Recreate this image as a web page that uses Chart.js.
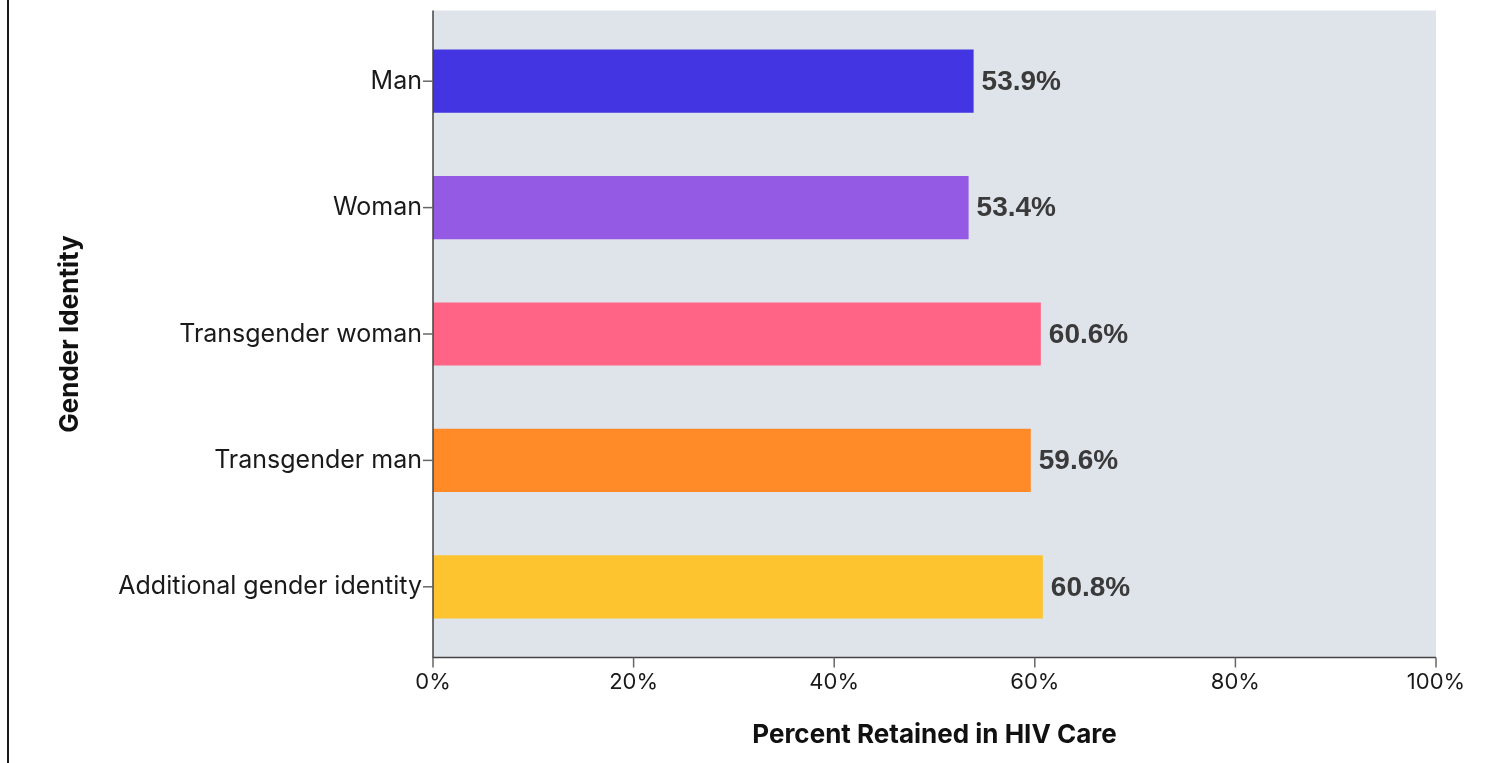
<!DOCTYPE html>
<html>
<head>
<meta charset="utf-8">
<script src="https://cdn.jsdelivr.net/npm/chart.js@4"></script>
<style>
  html, body { margin: 0; padding: 0; background: #fff; }
  #wrap { position: relative; width: 1487px; height: 763px; }
  #edge { position: absolute; left: 7px; top: 0; width: 2px; height: 763px; background: #1a1a1a; }
</style>
</head>
<body>
<div id="wrap">
  <div id="edge"></div>
  <canvas id="myChart"></canvas>
</div>
<script>
// data
let genderLabels = ['Man', 'Woman', 'Transgender woman', 'Transgender man', 'Additional gender identity'];
let retainedValues = [53.9, 53.4, 60.6, 59.6, 60.8];
let barColors = ['#4335e2', '#955ae3', '#ff6486', '#ff8a27', '#fdc42f'];

const PAD = 7.5; // grey panel sticks out a bit above/below the categories
const labelFont = 'Inter, "Noto Sans", sans-serif';

// panel background, axis lines, tick marks and value labels
const frame = {
    id: 'frame',
    beforeDraw(chart) {
        const { ctx, chartArea: a } = chart;
        ctx.save();
        ctx.fillStyle = '#dfe3ea';
        ctx.fillRect(a.left, a.top - PAD, a.right - a.left, a.bottom - a.top + 2 * PAD);
        ctx.restore();
    },
    afterDatasetsDraw(chart) {
        const { ctx, chartArea: a, scales } = chart;
        const base = a.bottom + PAD;
        ctx.save();
        ctx.strokeStyle = '#444';
        ctx.lineWidth = 1.5;
        ctx.beginPath();
        ctx.moveTo(a.left, a.top - PAD);
        ctx.lineTo(a.left, base);
        ctx.lineTo(a.right, base);
        ctx.stroke();

        ctx.strokeStyle = '#666';
        ctx.lineWidth = 1.5;
        scales.x.ticks.forEach(t => {
            const x = scales.x.getPixelForValue(t.value);
            ctx.beginPath();
            ctx.moveTo(x, base);
            ctx.lineTo(x, base + 10);
            ctx.stroke();
        });
        genderLabels.forEach((g, i) => {
            const y = scales.y.getPixelForValue(i);
            ctx.beginPath();
            ctx.moveTo(a.left - 10, y);
            ctx.lineTo(a.left, y);
            ctx.stroke();
        });

        ctx.fillStyle = '#3a3a3a';
        ctx.font = 'bold 28px "Liberation Sans", Arial, sans-serif';
        ctx.textAlign = 'left';
        ctx.textBaseline = 'middle';
        chart.getDatasetMeta(0).data.forEach((bar, i) => {
            ctx.fillText(retainedValues[i].toFixed(1) + '%', bar.x + 8, bar.y + 1);
        });
        ctx.restore();
    }
};

let myChart = document.getElementById('myChart').getContext('2d');
let barChart = new Chart(myChart, {
    type: 'bar',
    data: {
        labels: genderLabels,
        datasets: [{
            label: 'Percent Retained in HIV Care',
            data: retainedValues,
            backgroundColor: barColors,
            borderWidth: 0,
            categoryPercentage: 1,
            barPercentage: 0.5
        }]
    },
    options: {
        indexAxis: 'y',
        responsive: true,
        maintainAspectRatio: false,
        animation: false,
        layout: {
            padding: { left: 0, top: 18, right: 51, bottom: 0 }
        },
        plugins: {
            legend: { display: false },
            tooltip: { enabled: false }
        },
        scales: {
            x: {
                min: 0,
                max: 100,
                ticks: {
                    stepSize: 20,
                    padding: 19,
                    color: '#1a1a1a',
                    font: { family: labelFont, size: 22 },
                    callback: v => v + '%'
                },
                grid: { display: false, drawTicks: false },
                border: { display: false },
                title: {
                    display: true,
                    text: 'Percent Retained in HIV Care',
                    color: '#111',
                    font: { family: labelFont, size: 26, weight: 'bold' },
                    padding: { top: 0, bottom: 12 }
                },
                afterFit: s => { s.height = 113; }
            },
            y: {
                ticks: {
                    padding: 11,
                    color: '#1a1a1a',
                    font: { family: labelFont, size: 25 }
                },
                grid: { display: false, drawTicks: false },
                border: { display: false },
                title: {
                    display: true,
                    text: 'Gender Identity',
                    color: '#111',
                    font: { family: labelFont, size: 26, weight: 'bold' },
                    padding: { top: 55, bottom: 0 }
                },
                afterFit: s => {
                    s.width = 433;
                    s.paddingTop = 0;
                    s.paddingBottom = 0;
                }
            }
        }
    },
    plugins: [frame]
});
</script>
</body>
</html>
